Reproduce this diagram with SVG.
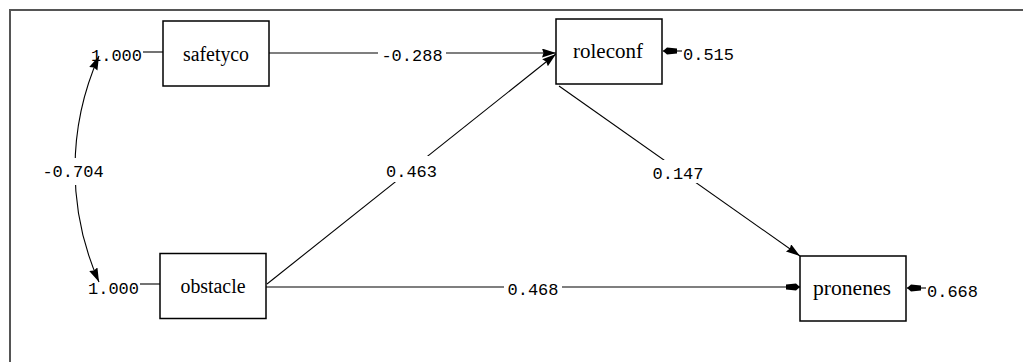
<svg xmlns="http://www.w3.org/2000/svg" width="1023" height="362" viewBox="0 0 1023 362">
<style>
.box{fill:#fff;stroke:#000;stroke-width:1.5}
.lbl{font-family:"Liberation Serif","Times New Roman",serif;font-size:20px;fill:#000;text-anchor:middle}
.num{font-family:"Liberation Mono","Courier New",monospace;font-size:17px;fill:#000}
.c{text-anchor:middle}
.ln{fill:none;stroke:#000;stroke-width:1.1}
.gap{fill:#fff}
</style>
<defs>
<marker id="arr" markerUnits="userSpaceOnUse" markerWidth="16" markerHeight="10" refX="14" refY="4.5" orient="auto-start-reverse">
<path d="M0,0 L14,4.5 L0,9 L1.5,4.5 z" fill="#000"/>
</marker>
<marker id="stub" markerUnits="userSpaceOnUse" markerWidth="16" markerHeight="10" refX="14" refY="4" orient="auto">
<path d="M0,1.5 L10,0.5 L14,4 L10,7.5 L0,6.5 z" fill="#000"/>
</marker>
</defs>
<rect width="1023" height="362" fill="#fff"/>
<path d="M10,362 V10 H1023" fill="none" stroke="#555" stroke-width="2"/>

<g id="connectors">
<path class="ln" d="M99,56 A278,278 0 0 0 99,282" marker-start="url(#arr)" marker-end="url(#arr)"/>
<rect class="gap" x="40" y="158" width="68" height="27"/>
<text class="num c" x="73" y="177">-0.704</text>

<line class="ln" x1="143" y1="52" x2="163" y2="52"/>
<line class="ln" x1="140" y1="284" x2="160" y2="284"/>

<line class="ln" x1="269" y1="53" x2="556" y2="53" marker-end="url(#arr)"/>
<rect class="gap" x="378" y="44" width="68" height="20"/>
<text class="num c" x="412" y="61">-0.288</text>

<line class="ln" x1="267" y1="284" x2="556" y2="54" marker-end="url(#arr)"/>
<rect class="gap" x="384" y="156" width="56" height="26"/>
<text class="num c" x="411.5" y="177">0.463</text>

<line class="ln" x1="559" y1="86" x2="800" y2="256" marker-end="url(#arr)"/>
<rect class="gap" x="650" y="160" width="56" height="23"/>
<text class="num c" x="678" y="179">0.147</text>

<line class="ln" x1="266" y1="287" x2="800" y2="287" marker-end="url(#stub)"/>
<rect class="gap" x="504" y="278" width="58" height="20"/>
<text class="num c" x="533" y="295">0.468</text>

<line class="ln" x1="682" y1="51" x2="663" y2="51" marker-end="url(#stub)"/>
<line class="ln" x1="926" y1="288" x2="907" y2="288" marker-end="url(#stub)"/>
</g>

<g id="safetyco">
<rect class="box" x="163" y="21" width="106" height="65"/>
<text class="lbl" x="216" y="61" textLength="66" lengthAdjust="spacingAndGlyphs">safetyco</text>
<text class="num" x="91" y="61">1.000</text>
</g>
<g id="obstacle">
<rect class="box" x="160" y="253.5" width="106" height="65"/>
<text class="lbl" x="213" y="292.5" textLength="65" lengthAdjust="spacingAndGlyphs">obstacle</text>
<text class="num" x="88" y="294">1.000</text>
</g>
<g id="roleconf">
<rect class="box" x="556" y="19" width="106" height="65"/>
<text class="lbl" x="608" y="58" textLength="70" lengthAdjust="spacingAndGlyphs">roleconf</text>
<text class="num" x="683" y="60">0.515</text>
</g>
<g id="pronenes">
<rect class="box" x="800" y="256" width="106" height="65"/>
<text class="lbl" x="852" y="295" textLength="78" lengthAdjust="spacingAndGlyphs">pronenes</text>
<text class="num" x="927" y="297">0.668</text>
</g>
</svg>
